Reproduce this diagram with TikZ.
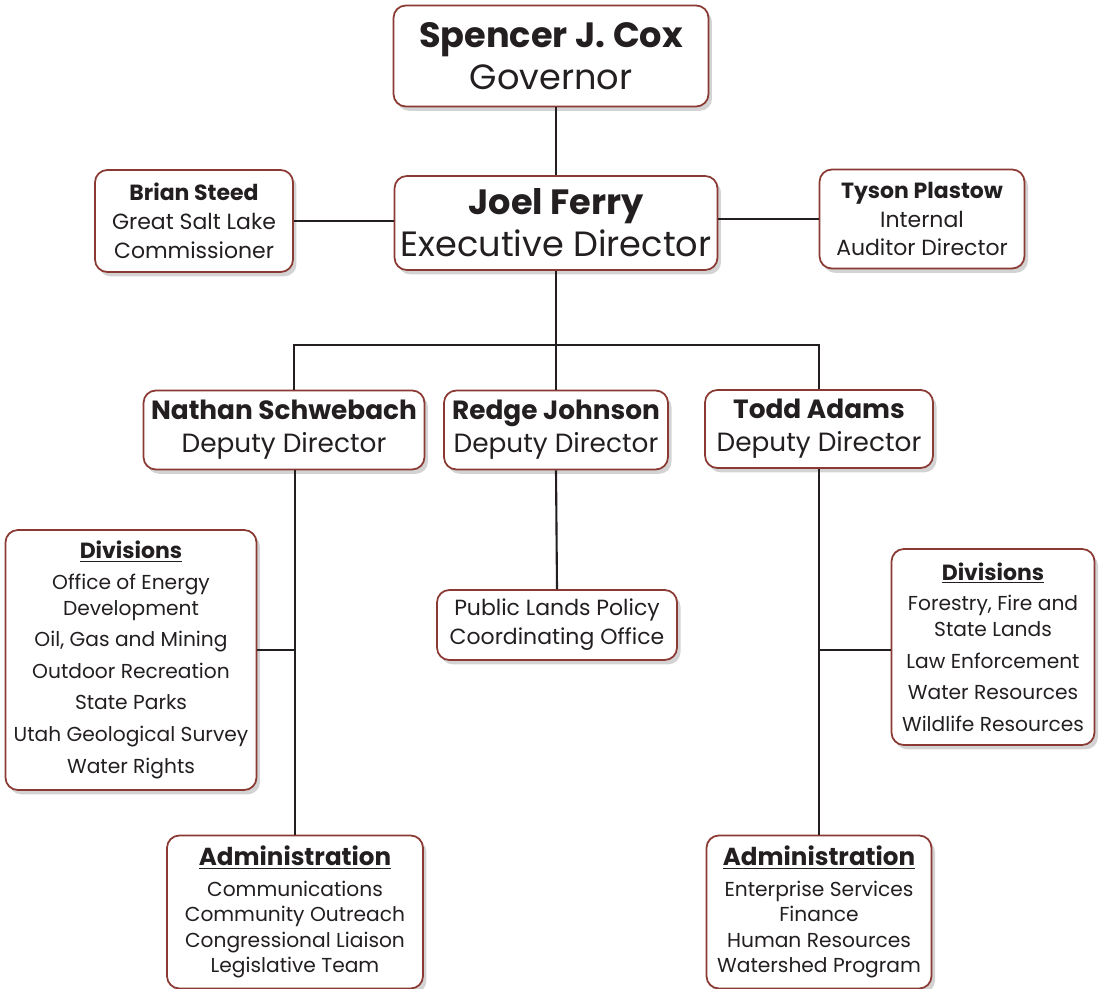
\documentclass[tikz,border=0pt]{standalone}
\usepackage{fontspec}
\setmainfont{Poppins}
\usetikzlibrary{shadows}

\definecolor{boxred}{HTML}{8B3A33}
\definecolor{ink}{HTML}{231F20}

\tikzset{
  card/.style={draw=boxred, line width=1pt, fill=white, rounded corners=7pt,
    align=center, text=ink, inner sep=0pt,
    drop shadow={shadow xshift=2pt, shadow yshift=-2.5pt, opacity=0.35}},
  bigcard/.style={card, font=\fontsize{20}{24}\selectfont},
  smallcard/.style={card, font=\fontsize{12.5}{16.4}\selectfont},
  deputycard/.style={card, font=\fontsize{15}{18.7}\selectfont},
  listcard/.style={card, font=\fontsize{11.5}{14.5}\selectfont},
  link/.style={draw=ink, line width=1.2pt},
}
\newcommand{\ulhead}[1]{\underline{\textbf{#1}}}

\begin{document}
\begin{tikzpicture}[x=0.02cm, y=-0.02cm]
\useasboundingbox (0,0) rectangle (1101,989);

% top of the chart
\node[bigcard, minimum width=6.3cm, minimum height=2.02cm] (gov) at (551,56)
  {\textbf{Spencer J. Cox}\\Governor};
\node[bigcard, minimum width=6.46cm, minimum height=1.88cm] (ferry) at (556,223)
  {\textbf{Joel Ferry}\\Executive Director};
\node[smallcard, minimum width=3.96cm, minimum height=2.04cm] (steed) at (194,221)
  {\textbf{Brian Steed}\\Great Salt Lake\\Commissioner};
\node[smallcard, minimum width=4.1cm, minimum height=1.98cm] (plastow) at (922,219)
  {\textbf{Tyson Plastow}\\Internal\\Auditor Director};

% deputies
\node[deputycard, minimum width=5.62cm, minimum height=1.58cm] (schweb) at (284,430)
  {\textbf{Nathan Schwebach}\\Deputy Director};
\node[deputycard, minimum width=4.48cm, minimum height=1.58cm] (johnson) at (556,430)
  {\textbf{Redge Johnson}\\Deputy Director};
\node[deputycard, minimum width=4.56cm, minimum height=1.56cm] (adams) at (819,429)
  {\textbf{Todd Adams}\\Deputy Director};

% lower boxes
\node[listcard, minimum width=5.02cm, minimum height=5.2cm] (divL) at (131,660)
  {{\fontsize{12.5}{15}\selectfont\ulhead{Divisions}}\\[3pt]
   Office of Energy\\Development\\[3.5pt]
   Oil, Gas and Mining\\[3.5pt]
   Outdoor Recreation\\[3.5pt]
   State Parks\\[3.5pt]
   Utah Geological Survey\\[3.5pt]
   Water Rights};
\node[smallcard, minimum width=4.8cm, minimum height=1.4cm] (pub) at (557,625)
  {Public Lands Policy\\Coordinating Office};
\node[listcard, minimum width=4.06cm, minimum height=3.92cm] (divR) at (993,647)
  {{\fontsize{12.5}{15}\selectfont\ulhead{Divisions}}\\[3pt]
   Forestry, Fire and\\State Lands\\[3.5pt]
   Law Enforcement\\[3.5pt]
   Water Resources\\[3.5pt]
   Wildlife Resources};
\node[listcard, minimum width=5.12cm, minimum height=3.06cm] (admL) at (295,912)
  {{\fontsize{14}{16}\selectfont\ulhead{Administration}}\\[3pt]
   Communications\\Community Outreach\\Congressional Liaison\\Legislative Team};
\node[listcard, minimum width=4.5cm, minimum height=3.06cm] (admR) at (819,912)
  {{\fontsize{14}{16}\selectfont\ulhead{Administration}}\\[3pt]
   Enterprise Services\\Finance\\Human Resources\\Watershed Program};

% connectors
\coordinate (busL) at (294,345);
\coordinate (busR) at (819,345);
\coordinate (jL) at (294,650);
\coordinate (jR) at (819,650);

\draw[link] (gov.south -| ferry.north) -- (ferry.north);
\draw[link] (steed.east) -- (steed.east -| ferry.west);
\draw[link] (ferry.east |- plastow.west) -- (plastow.west);
\draw[link] (ferry.south) -- (johnson.north);
\draw[link] (schweb.north -| busL) -- (busL) -- (busR) -- (adams.north);
\draw[link] (schweb.south -| admL.north) -- (admL.north);
\draw[link] (divL.east |- jL) -- (jL);
\draw[link] (johnson.south) -- (pub.north);
\draw[link] (adams.south) -- (admR.north);
\draw[link] (jR) -- (divR.west |- jR);
\end{tikzpicture}
\end{document}
